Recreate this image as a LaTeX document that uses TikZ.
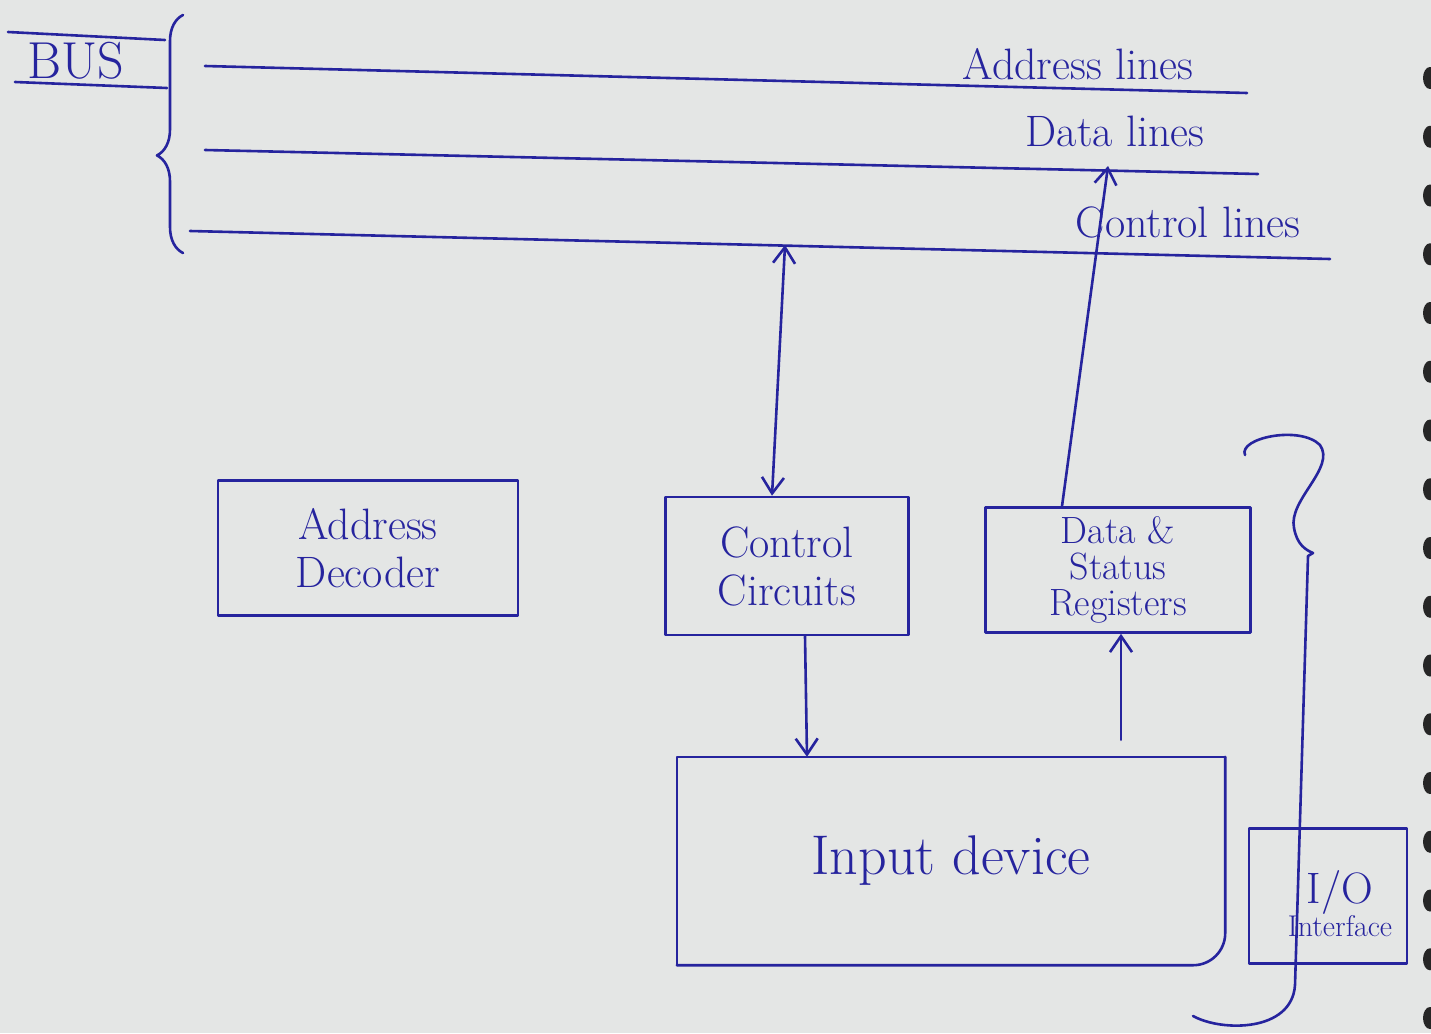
\documentclass[tikz,border=0pt]{standalone}
\usepackage{fontspec}
\usetikzlibrary{arrows.meta,decorations.pathreplacing}
\definecolor{ink}{RGB}{38,36,158}
\definecolor{paper}{RGB}{228,230,229}
\begin{document}
\begin{tikzpicture}[x=1pt,y=-1pt,
  inkline/.style={draw=ink,line width=2.6pt,line cap=round,line join=round},
  block/.style={inkline,align=center,text=ink,inner sep=0pt,
    font=\fontsize{44}{48}\selectfont},
  lbl/.style={text=ink,inner sep=0pt,font=\fontsize{44}{48}\selectfont},
  arr/.style={inkline,-{Straight Barb[length=16pt,width=22pt]}},
  darr/.style={inkline,{Straight Barb[length=16pt,width=22pt]}-{Straight Barb[length=16pt,width=22pt]}},
  ring/.style={fill=black!85}]
  % paper
  \fill[paper] (0,0) rectangle (1431,1033);
  \useasboundingbox (0,0) rectangle (1431,1033);

  % BUS title with its rules
  \node[lbl,font=\fontsize{52}{56}\selectfont] (bus) at (76,61) {BUS};
  \draw[inkline] (8,32) -- (165,40);
  \draw[inkline] (15,82) -- (167,88);

  % brace gathering the three bus lines
  \draw[inkline,decorate,decoration={brace,amplitude=26pt,aspect=0.41}]
    (183,253) -- (183,15);

  % bus lines
  \coordinate (a1) at (205,66);   \coordinate (a2) at (1247,93);
  \coordinate (d1) at (205,150);  \coordinate (d2) at (1258,174);
  \coordinate (c1) at (190,231);  \coordinate (c2) at (1330,259);
  \draw[inkline] (a1) -- (a2);
  \draw[inkline] (d1) -- (d2);
  \draw[inkline] (c1) -- (c2);
  \node[lbl] (alines) at (1078,64) {Address lines};
  \node[lbl] (dlines) at (1115,131) {Data lines};
  \node[lbl] (clines) at (1188,222) {Control lines};

  % interface blocks
  \node[block,minimum width=300pt,minimum height=135pt] (dec) at (368,548)
    {Address\\ Decoder};
  \node[block,minimum width=243pt,minimum height=138pt] (cc) at (787,566)
    {Control\\ Circuits};
  \node[block,font=\fontsize{38}{36}\selectfont,minimum width=265pt,
    minimum height=125pt] (dsr) at (1118,570)
    {Data \&\\ Status\\ Registers};

  % input device, rounded at its lower right corner
  \node[text=ink,font=\fontsize{56}{60}\selectfont,minimum width=548pt,
    minimum height=208pt] (inp) at (951,861) {Input device};
  \draw[inkline] (inp.south west) -- (inp.north west) -- (inp.north east);
  \draw[inkline,rounded corners=32pt] (inp.north east) -- (inp.south east)
    -- (inp.south west);

  % I/O interface
  \node[inkline,minimum width=158pt,minimum height=135pt] (io) at (1328,896) {};
  \node[text=ink,align=center,inner sep=0pt] (iotext) at (1340,904)
    {{\fontsize{44}{44}\selectfont I/O}\\ {\fontsize{30}{34}\selectfont Interface}};

  % large brace grouping the interface
  \draw[inkline] (1245,455) .. controls (1238,438) and (1300,425) .. (1320,445)
    .. controls (1336,468) and (1288,500) .. (1294,528)
    .. controls (1297,545) and (1306,550) .. (1313,553)
    -- (1308,556) -- (1295,985)
    .. controls (1292,1032) and (1222,1032) .. (1193,1016);

  % bus connections
  \coordinate (ctl) at (785,245);
  \coordinate (dat) at (1108,166);
  \draw[darr] ([xshift=-15pt]cc.north) -- (ctl);
  \draw[arr] ([xshift=-56pt]dsr.north) -- (dat);

  % block to device connections
  \draw[arr] ([xshift=18pt]cc.south) -- ([xshift=-144pt]inp.north);
  \draw[arr] ([xshift=170pt,yshift=17pt]inp.north) -- ([xshift=3pt]dsr.south);

  % notebook binding rings
  \foreach \k in {0,...,16}
    \fill[ring] (1430,78+58.75*\k) ellipse (7pt and 11pt);
\end{tikzpicture}
\end{document}
